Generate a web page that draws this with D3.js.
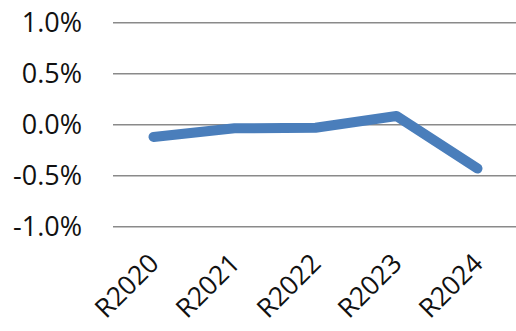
<!DOCTYPE html>
<html>
<head>
<meta charset="utf-8">
<script src="https://cdn.jsdelivr.net/npm/d3@7"></script>
<style>
  body { margin: 0; background: #fff; }
  text { font-family: "Open Sans", "Noto Sans", sans-serif; fill: #111; }
</style>
</head>
<body>
<script>
// data
var categories = ["R2020", "R2021", "R2022", "R2023", "R2024"];
var values = [-0.12, -0.035, -0.03, 0.085, -0.43];   // percent
var yTicks = [-1.0, -0.5, 0.0, 0.5, 1.0];

var W = 516, H = 331;
var plotLeft = 113, plotRight = 518, plotTop = 22.7, plotBottom = 226.7;

var svg = d3.select("body").append("svg").attr("width", W).attr("height", H);

var xScale = d3.scalePoint().domain(categories).range([plotLeft, plotRight]).padding(0.5);
var yScale = d3.scaleLinear().domain([-1, 1]).range([plotBottom, plotTop]);

// gridlines
svg.append("g").selectAll("line").data(yTicks).enter().append("line")
  .attr("x1", plotLeft).attr("x2", plotRight)
  .attr("y1", d => yScale(d)).attr("y2", d => yScale(d))
  .attr("stroke", "#8a8a8a").attr("stroke-width", 1.5);

// y labels
svg.append("g").selectAll("text").data(yTicks).enter().append("text")
  .attr("x", 82).attr("y", d => yScale(d)).attr("dy", "0.36em")
  .attr("text-anchor", "end").attr("font-size", "27px")
  .text(d => d3.format(".1f")(d).replace("−", "-") + "%");

// x labels
svg.append("g").selectAll("text").data(categories).enter().append("text")
  .attr("text-anchor", "end").attr("font-size", "26.5px")
  .attr("transform", d => "translate(" + (xScale(d) + 7) + ",265) rotate(-45)")
  .text(d => d);

// line
var line = d3.line().x((d, i) => xScale(categories[i])).y(d => yScale(d));
svg.append("path").datum(values)
  .attr("fill", "none").attr("stroke", "#4a7ebb").attr("stroke-width", 10)
  .attr("stroke-linecap", "round").attr("stroke-linejoin", "round")
  .attr("d", line);
</script>
</body>
</html>
